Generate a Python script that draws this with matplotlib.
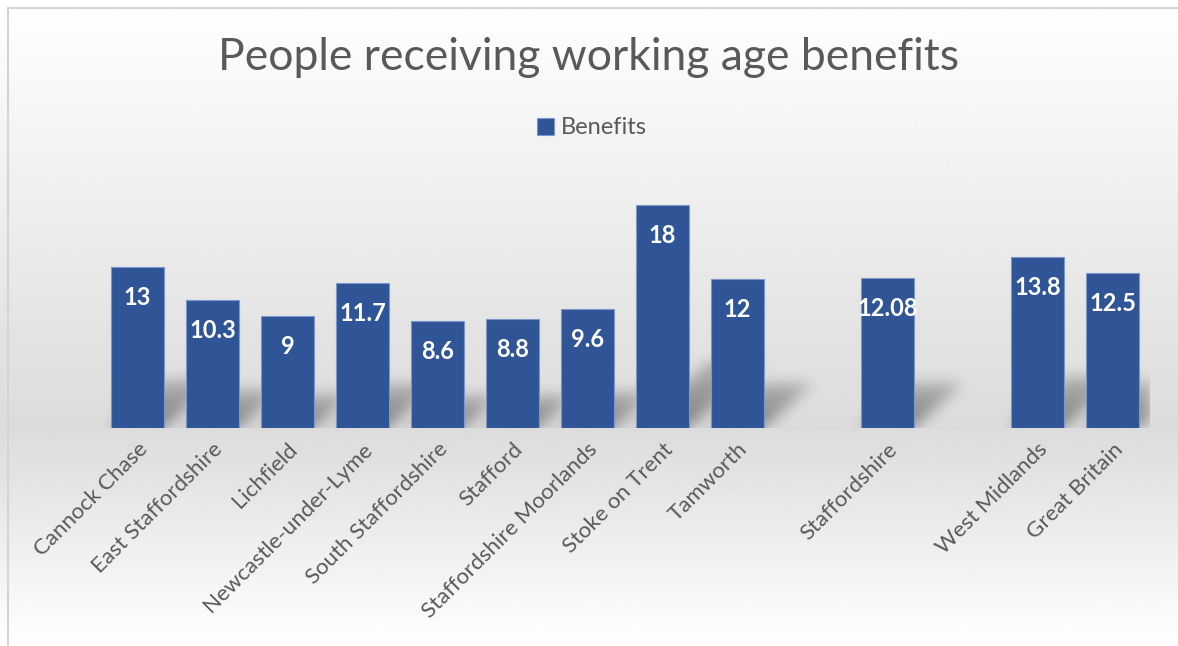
import numpy as np
import matplotlib.pyplot as plt
from matplotlib.lines import Line2D

plt.rcParams['font.family'] = ['Lato', 'DejaVu Sans']

# benefit claimants by area (blank slots separate the groups)
categories = ['Cannock Chase', 'East Staffordshire', 'Lichfield', 'Newcastle-under-Lyme',
              'South Staffordshire', 'Stafford', 'Staffordshire Moorlands', 'Stoke on Trent',
              'Tamworth', '', 'Staffordshire', '', 'West Midlands', 'Great Britain']
benefits = [13, 10.3, 9, 11.7, 8.6, 8.8, 9.6, 18, 12, np.nan, 12.08, np.nan, 13.8, 12.5]
value_labels = ['13', '10.3', '9', '11.7', '8.6', '8.8', '9.6', '18', '12', '', '12.08', '', '13.8', '12.5']

W, H = 1178, 646
fig = plt.figure(figsize=(W / 100, H / 100), dpi=100)

# grey band background, white at top and bottom
bg = fig.add_axes([0, 0, 1, 1], zorder=-10)
yy = np.linspace(0, 1, 400)
peak = 428 / H
shade = np.where(yy < peak, 1 - 0.14 * yy / peak, 0.86 + 0.14 * (yy - peak) / (1 - peak))
bg.imshow(np.repeat(shade[:, None], 2, axis=1), cmap='gray', vmin=0, vmax=1,
          aspect='auto', extent=(0, 1, 1, 0))
bg.set_xlim(0, 1)
bg.set_ylim(1, 0)
bg.axis('off')

fig.add_artist(Line2D([7.5 / W, 7.5 / W], [0, 1 - 7.5 / H], transform=fig.transFigure,
                      color='#d4d4d4', lw=1.5))
fig.add_artist(Line2D([7.5 / W, 1], [1 - 7.5 / H, 1 - 7.5 / H], transform=fig.transFigure,
                      color='#d4d4d4', lw=1.5))

ax_left, ax_right, base_y, top_y = 100, 1150, 428, 180
ax = fig.add_axes([ax_left / W, 1 - base_y / H, (ax_right - ax_left) / W, (base_y - top_y) / H])
ax.patch.set_alpha(0)
ymax = 20
ax.set_xlim(-0.5, len(categories) - 0.5)
ax.set_ylim(0, ymax)

x = np.arange(len(categories))
vals = np.array(benefits, dtype=float)
bw = 0.71

# soft perspective shadows at the foot of each bar
nx, ny = 1400, 400
gx = np.linspace(-0.5, len(categories) - 0.5, nx)
gy = np.linspace(0, ymax, ny)
GX, GY = np.meshgrid(gx, gy)
mask = np.zeros((ny, nx))
px_x = (ax_right - ax_left) / len(categories)
px_y = (base_y - top_y) / ymax
for xi, v in zip(x, vals):
    if np.isnan(v):
        continue
    sh = 0.3 * v
    dx = 1.1 * sh * px_y / px_x
    t = np.clip(GY / sh, 0, None)
    inside = (GY <= sh) & (GX >= xi - bw / 2 + dx * t) & (GX <= xi + bw / 2 + dx * t)
    mask = np.maximum(mask, inside * (1 - 0.5 * t))

def blur(a, sigma, axis):
    k = np.arange(-3 * int(sigma) - 1, 3 * int(sigma) + 2)
    kern = np.exp(-0.5 * (k / sigma) ** 2)
    kern /= kern.sum()
    return np.apply_along_axis(lambda r: np.convolve(r, kern, mode='same'), axis, a)

sig_px = 7
mask = blur(mask, sig_px * nx / (ax_right - ax_left), 1)
mask = blur(mask, sig_px * ny / (base_y - top_y), 0)
rgba = np.zeros((ny, nx, 4))
rgba[..., 3] = 0.42 * mask
ax.imshow(rgba, extent=(-0.5, len(categories) - 0.5, 0, ymax), origin='lower',
          aspect='auto', zorder=1, interpolation='bilinear')

bars = ax.bar(x, np.nan_to_num(vals), bw, color='#2F5597', edgecolor='#7d97c8',
              linewidth=0.8, zorder=2, label='Benefits')
for xi, v, lab in zip(x, vals, value_labels):
    if np.isnan(v):
        continue
    ax.annotate(lab, (xi, v), xytext=(0, -22), textcoords='offset points',
                ha='center', va='center', color='white', fontsize=17, fontweight='bold',
                zorder=3)

ax.set_xticks(x)
ax.set_xticklabels(categories, rotation=45, ha='right', rotation_mode='anchor',
                   color='#595959', fontsize=16)
ax.tick_params(axis='x', length=0, pad=8)
ax.set_yticks([])
for s in ax.spines.values():
    s.set_visible(False)

fig.text(0.5, 1 - 58 / H, 'People receiving working age benefits', ha='center', va='center',
         color='#595959', fontsize=32)
fig.legend(handles=[bars], loc='center', bbox_to_anchor=(592 / W, 1 - 128 / H), frameon=False,
           fontsize=17, labelcolor='#595959', handlelength=0.7, handleheight=0.7,
           handletextpad=0.3)

fig.savefig('out.png', dpi=100)
